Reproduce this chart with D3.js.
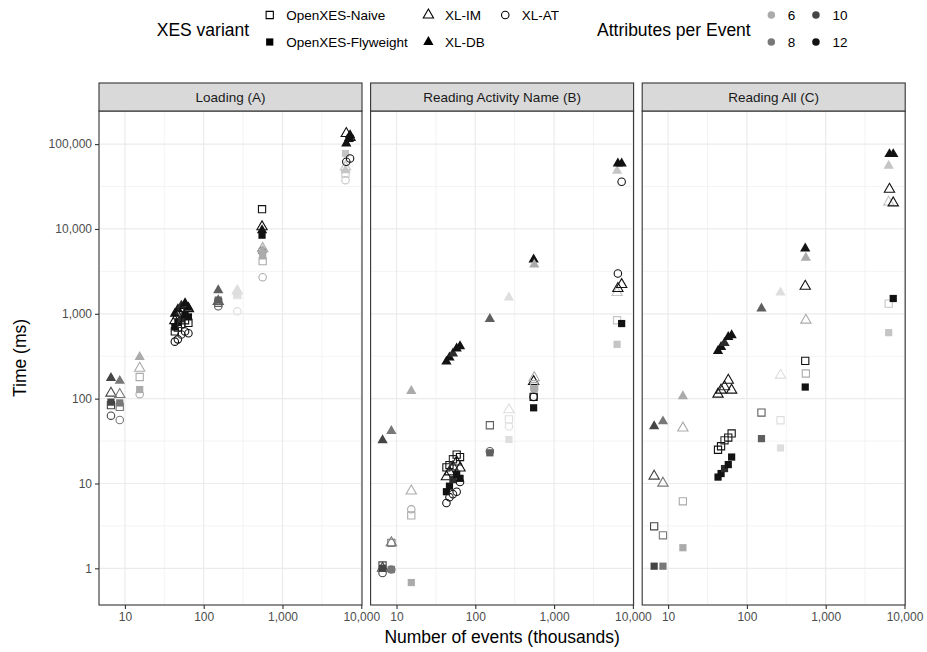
<!DOCTYPE html>
<html>
<head>
<meta charset="utf-8">
<script src="https://cdn.jsdelivr.net/npm/d3@7"></script>
<style>
  body { margin: 0; background: #fff; }
  svg { font-family: "Liberation Sans", Arial, Helvetica, sans-serif; }
</style>
</head>
<body>
<svg id="chart" width="927" height="652"></svg>
<script>
// event logs: size (thousands of events) and attributes per event
const events = [6.65, 8.6, 15.4, 43, 47, 52, 58, 64, 153, 267, 550, 560, 6300, 6450, 7200]
const attrs = [10, 8, 6, 12, 12, 11, 12, 12, 9, 4, 12, 6, 5, 12, 12]

const variants = ['OpenXES-Naive', 'OpenXES-Flyweight', 'XL-IM', 'XL-AT', 'XL-DB']
const panels = ['Loading (A)', 'Reading Activity Name (B)', 'Reading All (C)']
const attrLevels = [6, 8, 10, 12]

// time in ms, one value per event log (null = not measured)
const loadNaive = [84, 80, 180, 620, 690, 760, 840, 780, 1350, 1660, 17100, 4170, 45000, null, null]
const loadFly = [91, 89, 128, 700, 790, 870, 980, 920, 1450, 1700, 8450, 4820, 77600, null, 116700]
const loadIM = [116, 112, 228, 830, 950, 1080, 1250, 1150, 1400, 1860, 10600, 5900, 53900, 133600, 120000]
const loadAT = [63, 56, 113, 470, 500, 570, 620, 590, 1230, 1070, 5470, 2700, 37600, 61900, 67800]
const loadDB = [175, 162, 310, 1000, 1130, 1250, 1330, 1180, 1900, 1900, 9680, 5600, 49300, 101900, 127700]

const actNaive = [1.08, 2.0, 4.2, 15.5, 16.5, 19.3, 21.9, 20.5, 48.6, 57, 105, 140, 840, null, null]
const actFly = [1.0, 0.97, 0.68, 8.0, 9.3, 11.1, 12.8, 11.5, 23, 33, 78, 131, 437, null, 768]
const actIM = [1.0, 2.0, 8.15, 12.0, 13.7, 15.7, 17.9, 15.2, null, 74, 159, 177, 1780, 1990, 2210]
const actAT = [0.88, 0.97, 4.96, 5.9, 6.9, 7.5, 8.0, 10.4, 24, 47, 105, null, null, 2990, 36000]
const actDB = [32.3, 41.6, 123, 273, 305, 340, 390, 415, 870, 1560, 4370, 3800, 48400, 59200, 59200]

const allNaive = [3.13, 2.45, 6.17, 25, 27.5, 32.3, 34.8, 38.9, 68.6, 55.6, 279, 198, 1320, null, null]
const allFly = [1.06, 1.06, 1.75, 11.9, 13.1, 15, 16.7, 20.5, 33.8, 26.2, 137, null, 600, null, 1515]
const allIM = [12.2, 10.1, 45, 113, 126, 138, 165, 126, null, 189, 2115, 841, 20700, 29400, 20300]
const allAT = [null, null, null, null, null, null, null, null, null, null, null, null, null, null, null]
const allDB = [47.3, 54, 107, 365, 407, 454, 534, 560, 1155, 1780, 5890, 4570, 55500, 76200, 76200]

const xTicks = [10, 100, 1000, 10000]
const yTicks = [1, 10, 100, 1000, 10000, 100000]

const series = [
  [loadNaive, loadFly, loadIM, loadAT, loadDB],
  [actNaive, actFly, actIM, actAT, actDB],
  [allNaive, allFly, allIM, allAT, allDB]
]

const points = []
series.forEach((panel, p) => {
  events.forEach((ev, i) => {
    panel.forEach((vals, v) => {
      if (vals[i] != null) points.push({ panel: p, variant: v, x: ev, y: vals[i], attrs: attrs[i] })
    })
  })
})

const svg = d3.select('#chart')

const mLeft = 99
const mTop = 111
const pw = 263
const ph = 494
const gap = 8.6
const stripH = 28

// log extents with 5% expansion, like ggplot
function expandLog(ext) {
  const a = Math.log10(ext[0]), b = Math.log10(ext[1])
  const pad = (b - a) * 0.05
  return [Math.pow(10, a - pad), Math.pow(10, b + pad)]
}

const x = d3.scaleLog().domain(expandLog(d3.extent(points, (d) => d.x))).range([0, pw])
const y = d3.scaleLog().domain(expandLog(d3.extent(points, (d) => d.y))).range([ph, 0])

const color = d3.scaleLinear().domain([4, 12]).range(['#dedede', '#121212'])

const shapes = [
  { type: d3.symbolSquare, size: 52, fill: false },
  { type: d3.symbolSquare, size: 52, fill: true },
  { type: d3.symbolTriangle, size: 46, fill: false },
  { type: d3.symbolCircle, size: 44, fill: false },
  { type: d3.symbolTriangle, size: 46, fill: true }
]

function drawSymbol(sel, v, col) {
  const s = shapes[v]
  sel.attr('d', d3.symbol().type(s.type).size(s.size)())
    .attr('fill', s.fill ? col : 'none')
    .attr('stroke', s.fill ? 'none' : col)
    .attr('stroke-width', 1.1)
}

const minorY = d3.range(-1, 6).map((k) => Math.pow(10, k + 0.5)).filter((v) => v > y.domain()[0] && v < y.domain()[1])
const minorX = d3.range(0, 4).map((k) => Math.pow(10, k + 0.5)).filter((v) => v > x.domain()[0] && v < x.domain()[1])

panels.forEach((name, p) => {
  const g = svg.append('g')
    .attr('transform', `translate(${mLeft + p * (pw + gap)},${mTop})`)

  g.append('rect').attr('width', pw).attr('height', ph).attr('fill', '#fff')

  g.selectAll('.minor-y').data(minorY).enter().append('line')
    .attr('x1', 0).attr('x2', pw)
    .attr('y1', (d) => y(d)).attr('y2', (d) => y(d))
    .attr('stroke', '#ebebeb').attr('stroke-width', 0.6)
  g.selectAll('.minor-x').data(minorX).enter().append('line')
    .attr('y1', 0).attr('y2', ph)
    .attr('x1', (d) => x(d)).attr('x2', (d) => x(d))
    .attr('stroke', '#ebebeb').attr('stroke-width', 0.6)
  g.selectAll('.major-y').data(yTicks).enter().append('line')
    .attr('x1', 0).attr('x2', pw)
    .attr('y1', (d) => y(d)).attr('y2', (d) => y(d))
    .attr('stroke', '#ebebeb').attr('stroke-width', 1.2)
  g.selectAll('.major-x').data(xTicks).enter().append('line')
    .attr('y1', 0).attr('y2', ph)
    .attr('x1', (d) => x(d)).attr('x2', (d) => x(d))
    .attr('stroke', '#ebebeb').attr('stroke-width', 1.2)

  g.selectAll('.pt')
    .data(points.filter((d) => d.panel === p))
    .enter()
    .append('path')
    .attr('transform', (d) => `translate(${x(d.x)},${y(d.y)})`)
    .each(function (d) { drawSymbol(d3.select(this), d.variant, color(d.attrs)) })

  g.append('rect').attr('width', pw).attr('height', ph)
    .attr('fill', 'none').attr('stroke', '#333').attr('stroke-width', 1.1)

  // strip
  g.append('rect').attr('y', -stripH).attr('width', pw).attr('height', stripH)
    .attr('fill', '#d9d9d9').attr('stroke', '#333').attr('stroke-width', 1.1)
  g.append('text')
    .attr('x', pw / 2).attr('y', -stripH / 2).attr('dy', '0.35em')
    .attr('text-anchor', 'middle').attr('font-size', '13.5px').attr('fill', '#1a1a1a')
    .text(name)

  const xa = g.append('g').attr('transform', `translate(0,${ph})`)
    .call(d3.axisBottom(x).tickValues(xTicks).tickFormat(d3.format(',')).tickSize(4).tickPadding(3))
  xa.select('.domain').remove()
  xa.selectAll('line').attr('stroke', '#333').attr('stroke-width', 1.1)
  xa.selectAll('text').attr('fill', '#4d4d4d').attr('font-size', '12px')
  xa.attr('font-family', null)

  if (p === 0) {
    const ya = g.append('g')
      .call(d3.axisLeft(y).tickValues(yTicks).tickFormat(d3.format(',')).tickSize(4).tickPadding(3))
    ya.select('.domain').remove()
    ya.selectAll('line').attr('stroke', '#333').attr('stroke-width', 1.1)
    ya.selectAll('text').attr('fill', '#4d4d4d').attr('font-size', '12px')
    ya.attr('font-family', null)
  }
})

// axis titles
svg.append('text')
  .attr('x', mLeft + (3 * pw + 2 * gap) / 2).attr('y', 643)
  .attr('text-anchor', 'middle').attr('font-size', '17.5px')
  .text('Number of events (thousands)')
svg.append('text')
  .attr('transform', `translate(26,${mTop + ph / 2}) rotate(-90)`)
  .attr('text-anchor', 'middle').attr('font-size', '17.5px')
  .text('Time (ms)')

// legends
const leg = svg.append('g')
const rowY = [15, 42]
let cx = 0

function legendTitle(txt) {
  const t = leg.append('text').attr('x', cx).attr('y', 30).attr('dy', '0.35em')
    .attr('font-size', '17.5px').text(txt)
  cx += t.node().getComputedTextLength() + 12
}

function legendColumn(items) {
  const kx = cx + 8.6
  let w = 0
  items.forEach((it, r) => {
    const k = leg.append('path').attr('transform', `translate(${kx},${rowY[r]})`)
    it.draw(k)
    const t = leg.append('text').attr('x', kx + 16.5).attr('y', rowY[r]).attr('dy', '0.35em')
      .attr('font-size', '13.5px').text(it.label)
    w = Math.max(w, t.node().getComputedTextLength())
  })
  cx = kx + 16.5 + w + 12
}

legendTitle('XES variant')
const colOrder = [[0, 1], [2, 4], [3]]
colOrder.forEach((col) => {
  legendColumn(col.map((v) => ({ label: variants[v], draw: (s) => drawSymbol(s, v, '#000') })))
})
cx += 26
legendTitle('Attributes per Event')
;[[0, 1], [2, 3]].forEach((col) => {
  legendColumn(col.map((a) => ({
    label: String(attrLevels[a]),
    draw: (s) => s.attr('d', d3.symbol().type(d3.symbolCircle).size(44)()).attr('fill', color(attrLevels[a]))
  })))
})
const legW = cx - 12
leg.attr('transform', `translate(${mLeft + (3 * pw + 2 * gap) / 2 - legW / 2},0)`)
</script>
</body>
</html>
